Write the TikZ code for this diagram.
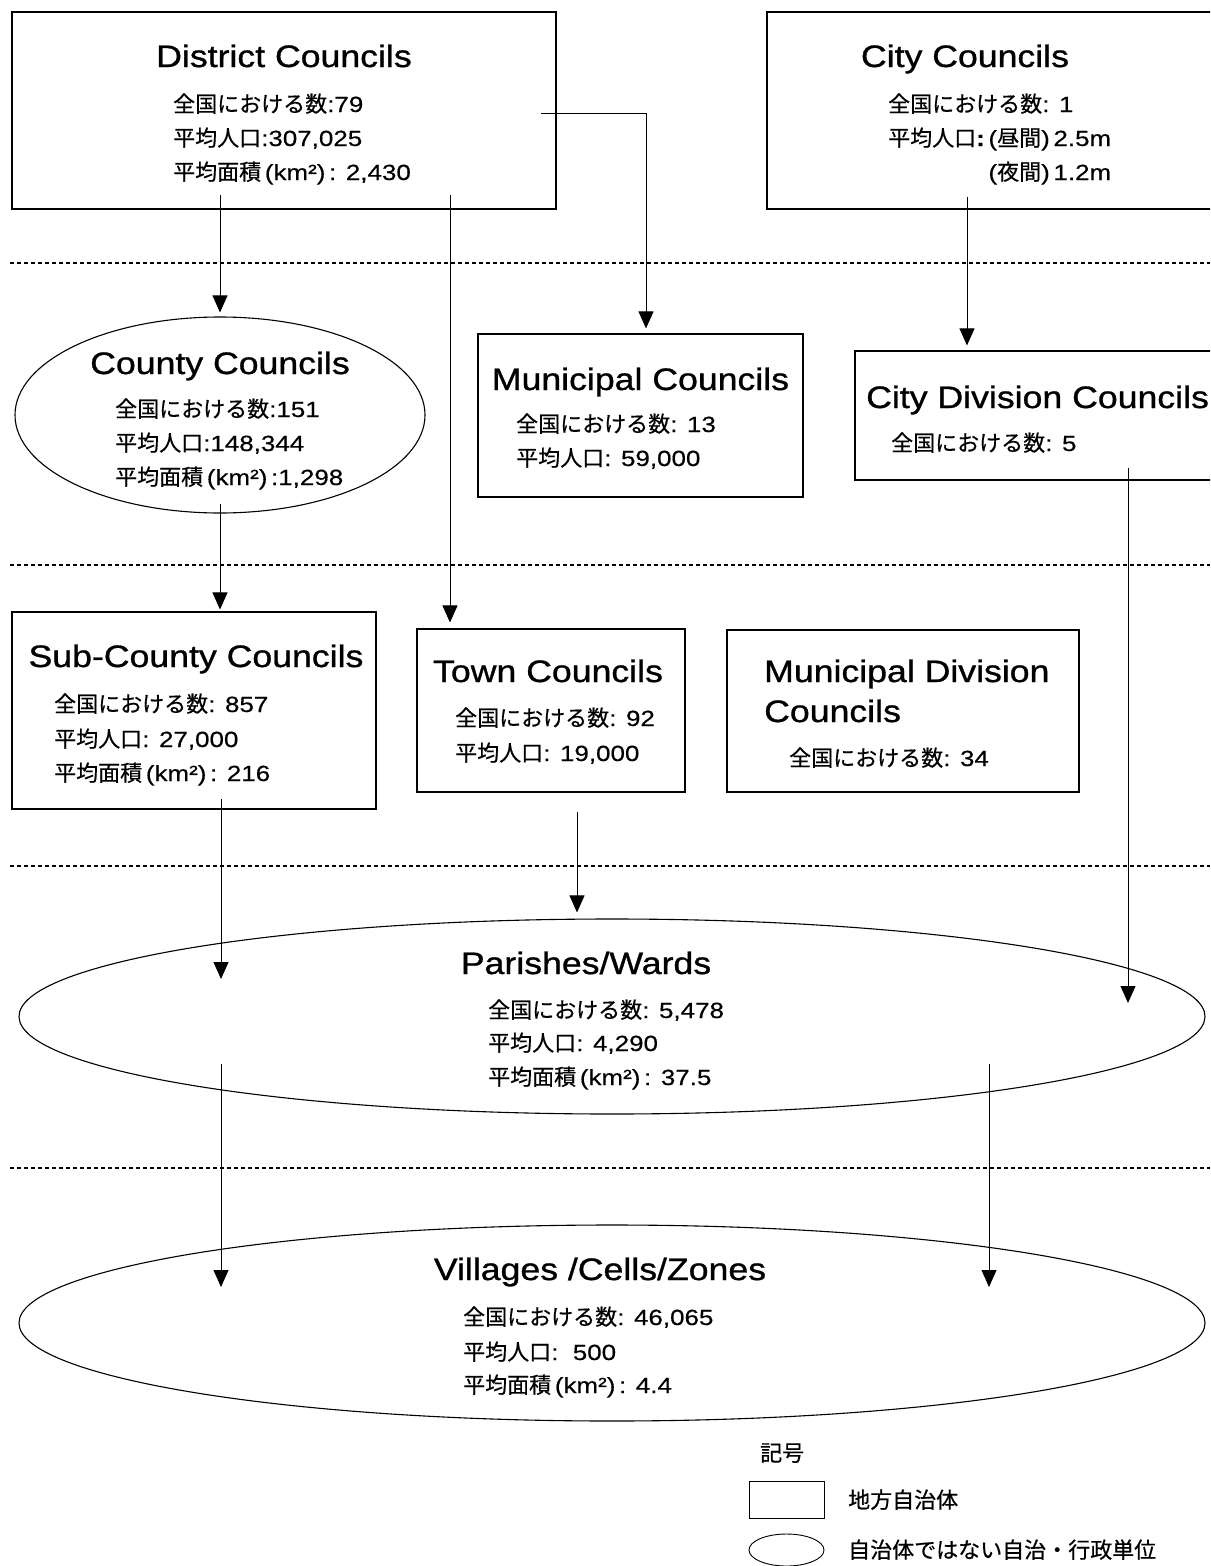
\documentclass[tikz,border=0pt]{standalone}
\usepackage{fontspec}
\setmainfont{Liberation Sans}[FakeStretch=1.18, FakeBold=0.4]
\newfontfamily\ttlfont{Liberation Sans}[FakeStretch=1.15, FakeBold=1.0]
\newfontfamily\jpfont{Noto Sans CJK JP}[FakeBold=0.5]
\newcommand\jp[1]{{\jpfont #1}}
\usetikzlibrary{shapes.geometric,arrows.meta,calc}
\begin{document}
\begin{tikzpicture}[x=1pt,y=-1pt,
  box/.style={draw, line width=1.1pt, rectangle, inner sep=0pt},
  oval/.style={draw, line width=1.1pt, ellipse, inner sep=0pt},
  conn/.style={line width=0.9pt, -{Triangle[width=15pt,length=17pt]}},
  level/.style={line width=1.2pt, dash pattern=on 4pt off 3pt},
  ttl/.style={inner sep=0pt, anchor=base, font=\ttlfont\fontsize{31}{38}\selectfont},
  ttlw/.style={inner sep=0pt, anchor=base west, font=\ttlfont\fontsize{31}{38}\selectfont},
  txt/.style={inner sep=0pt, anchor=base west, font=\fontsize{22}{26}\selectfont},
]
\useasboundingbox (0,0) rectangle (1210,1566);
\clip (0,0) rectangle (1210,1566);

% level separators
\draw[level] (10,263) -- (1210,263);
\draw[level] (10,565) -- (1210,565);
\draw[level] (10,866) -- (1210,866);
\draw[level] (10,1168) -- (1210,1168);

% councils (rectangles) and non-council units (ellipses)
\node[box, minimum width=544pt, minimum height=197pt] (dc) at (284,110.5) {};
\node[box, minimum width=463pt, minimum height=197pt] (cc) at (998.5,110.5) {};
\node[oval, minimum width=410pt, minimum height=196pt] (county) at (220,415) {};
\node[box, minimum width=325pt, minimum height=163pt] (mc) at (640.5,415.5) {};
\node[box, minimum width=375pt, minimum height=129pt] (cdc) at (1042.5,415.5) {};
\node[box, minimum width=364pt, minimum height=197pt] (sc) at (194,710.5) {};
\node[box, minimum width=268pt, minimum height=163pt] (tc) at (551,710.5) {};
\node[box, minimum width=352pt, minimum height=162pt] (mdc) at (903,711) {};
\node[oval, minimum width=1186pt, minimum height=195pt] (parish) at (612,1016.5) {};
\node[oval, minimum width=1186pt, minimum height=196pt] (village) at (612,1323) {};

% District Councils
\node[ttl] at (284,67) {District Councils};
\node[txt] at (173,112) {\jp{全国における数}:79};
\node[txt] at (173,146) {\jp{平均人口}:307,025};
\node[txt] at (173,180) {\jp{平均面積}\,(km²)\,: 2,430};

% City Councils
\node[ttl] at (965,67) {City Councils};
\node[txt] at (888,112) {\jp{全国における数}: 1};
\node[txt] (cc-l2) at (888,146) {\jp{平均人口}\textbf{:}\,(\jp{昼間})\,2.5m};
\node[txt, anchor=base east] at ($(cc-l2.base east)+(0,34)$) {(\jp{夜間})\,1.2m};

% County Councils
\node[ttl] at (220,374) {County Councils};
\node[txt] at (115,417) {\jp{全国における数}:151};
\node[txt] at (115,451) {\jp{平均人口}:148,344};
\node[txt] at (115,485) {\jp{平均面積}\,(km²)\,:1,298};

% Municipal Councils
\node[ttl] at (640.5,390) {Municipal Councils};
\node[txt] at (516,432) {\jp{全国における数}: 13};
\node[txt] at (516,466) {\jp{平均人口}: 59,000};

% City Division Councils
\node[ttlw] at (866,408) {City Division Councils};
\node[txt] at (891,451) {\jp{全国における数}: 5};

% Sub-County Councils
\node[ttl] at (196,667) {Sub-County Councils};
\node[txt] at (54,712) {\jp{全国における数}: 857};
\node[txt] at (54,747) {\jp{平均人口}: 27,000};
\node[txt] at (54,781) {\jp{平均面積}\,(km²)\,: 216};

% Town Councils
\node[ttl] at (548,682) {Town Councils};
\node[txt] at (455,726) {\jp{全国における数}: 92};
\node[txt] at (455,761) {\jp{平均人口}: 19,000};

% Municipal Division Councils
\node[ttlw] at (764,682) {Municipal Division};
\node[ttlw] at (764,722) {Councils};
\node[txt] at (789,766) {\jp{全国における数}: 34};

% Parishes / Wards
\node[ttl] at (586,974) {Parishes/Wards};
\node[txt] at (488,1018) {\jp{全国における数}: 5,478};
\node[txt] at (488,1051) {\jp{平均人口}: 4,290};
\node[txt] at (488,1085) {\jp{平均面積}\,(km²)\,: 37.5};

% Villages / Cells / Zones
\node[ttl] at (600,1280) {Villages /Cells/Zones};
\node[txt] at (463,1325) {\jp{全国における数}: 46,065};
\node[txt] at (463,1360) {\jp{平均人口}:\ \ 500};
\node[txt] at (463,1393) {\jp{平均面積}\,(km²)\,: 4.4};

% connector end points inside the shapes
\coordinate (dc-a) at (220,195);
\coordinate (dc-b) at (450,195);
\coordinate (dc-c) at (541,113);
\coordinate (cc-a) at (967,197);
\coordinate (county-a) at (220,504);
\coordinate (sc-a) at (221,799);
\coordinate (tc-a) at (577,812);
\coordinate (cdc-a) at (1128,468);
\coordinate (parish-l) at (221,979);
\coordinate (parish-r) at (1128,1003);
\coordinate (parish-a) at (221,1064);
\coordinate (parish-b) at (989,1064);
\coordinate (village-l) at (221,1287);
\coordinate (village-r) at (989,1287);

% connectors
\draw[conn, shorten >=4pt] (dc-a) -- (county.north);
\draw[conn, shorten >=6pt] (dc-b) -- (dc-b |- tc.north);
\draw[conn, shorten >=5pt] (dc-c) -| ($(mc.north)+(5.5,0)$);
\draw[conn, shorten >=5pt] (cc-a) -- (cc-a |- cdc.north);
\draw[conn, shorten >=2pt] (county-a) -- (county-a |- sc.north);
\draw[conn, shorten >=6pt] (tc-a) -- (tc-a |- parish.north);
\draw[conn] (sc-a) -- (parish-l);
\draw[conn] (cdc-a) -- (parish-r);
\draw[conn] (parish-a) -- (village-l);
\draw[conn] (parish-b) -- (village-r);

% legend
\node[txt] (lg-title) at (760,1461) {\jp{記号}};
\node[box, line width=0.9pt, minimum width=75pt, minimum height=37pt] (lg-box) at (786.5,1499.5) {};
\node[txt] (lg-box-text) at (848,1508) {\jp{地方自治体}};
\node[oval, line width=0.9pt, minimum width=75pt, minimum height=32pt] (lg-oval) at (786.5,1550) {};
\node[txt] (lg-oval-text) at (848,1558) {\jp{自治体ではない自治・行政単位}};
\end{tikzpicture}
\end{document}
